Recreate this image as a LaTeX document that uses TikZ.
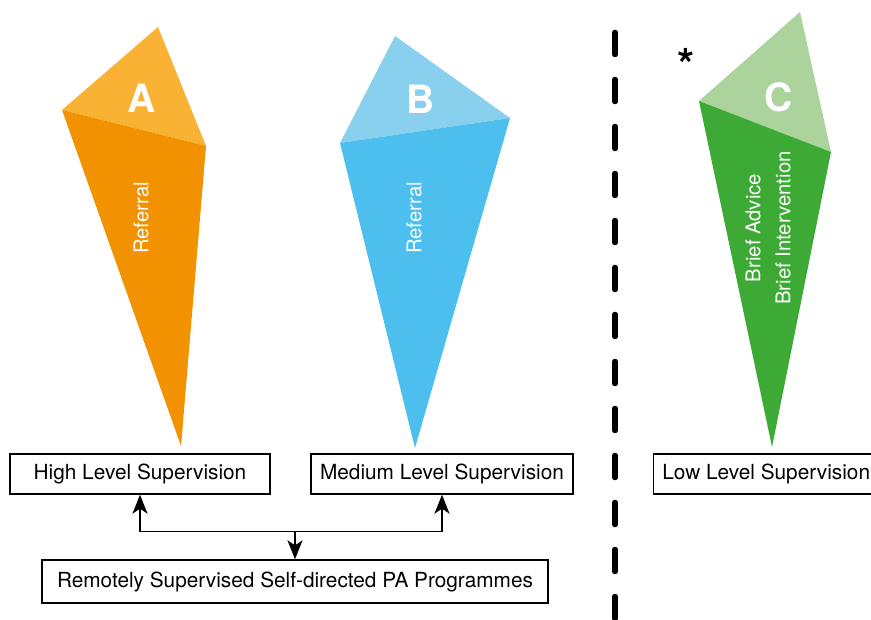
\documentclass[tikz,border=0pt]{standalone}
\usepackage{fontspec}
\setmainfont{TeX Gyre Heros}
\usetikzlibrary{arrows.meta, positioning}
\definecolor{orangeTop}{HTML}{F9B233}
\definecolor{orangeMain}{HTML}{F39200}
\definecolor{blueTop}{HTML}{89D0EE}
\definecolor{blueMain}{HTML}{4CBFEF}
\definecolor{greenTop}{HTML}{ABD39B}
\definecolor{greenMain}{HTML}{3DAA35}
\tikzset{
  sgbox/.style={draw, line width=1.4pt, fill=white, minimum height=40pt, inner sep=0pt,
    font=\fontsize{20.8}{22}\selectfont},
  sgarrow/.style={-{Stealth[length=19pt, width=15pt, inset=5pt]}, line width=1.7pt},
  sgletter/.style={text=white, font=\bfseries\fontsize{39}{40}\selectfont},
  sglabel/.style={text=white, rotate=90, align=center, font=\fontsize{20.3}{30}\selectfont},
  sgdivider/.style={line width=5.5pt, line cap=round, dash pattern=on 22pt off 25pt},
}

\begin{document}
\begin{tikzpicture}[x=1pt, y=-1pt]
  \useasboundingbox (0,0) rectangle (871,620);
  \clip (0,0) rectangle (871,620);

  % Kite A (high level).
  \coordinate (aTop) at (158,27);
  \coordinate (aLeft) at (62,110);
  \coordinate (aRight) at (206,146);
  \coordinate (aTip) at (181,446);
  \fill[orangeTop] (aLeft) -- (aTop) -- (aRight) -- cycle;
  \fill[orangeMain] (aLeft) -- (aRight) -- (aTip) -- cycle;
  \node[sgletter] (aLetter) at (142,98) {A};
  \node[sglabel] (aText) at (141,218) {Referral};

  % Kite B (medium level).
  \coordinate (bTop) at (395,36);
  \coordinate (bLeft) at (340,143);
  \coordinate (bRight) at (510,118);
  \coordinate (bTip) at (415,448);
  \fill[blueTop] (bLeft) -- (bTop) -- (bRight) -- cycle;
  \fill[blueMain] (bLeft) -- (bRight) -- (bTip) -- cycle;
  \node[sgletter] (bLetter) at (421,99) {B};
  \node[sglabel] (bText) at (414,218) {Referral};

  % Kite C (low level).
  \coordinate (cTop) at (800,12);
  \coordinate (cLeft) at (699,101);
  \coordinate (cRight) at (831,152);
  \coordinate (cTip) at (772,447);
  \fill[greenTop] (cLeft) -- (cTop) -- (cRight) -- cycle;
  \fill[greenMain] (cLeft) -- (cRight) -- (cTip) -- cycle;
  \node[sgletter] (cLetter) at (779,97) {C};
  \node[sglabel] (cText) at (768,228) {Brief Advice\\Brief Intervention};
  \node[font=\bfseries\fontsize{44}{44}\selectfont] (star) at (686,64) {*};

  % Divider.
  \coordinate (divTop) at (615,32.5);
  \coordinate (divEnd) at (615,640);
  \draw[sgdivider] (divTop) -- (divEnd);

  % Supervision boxes.
  \node[sgbox, minimum width=260pt] (high) at (140,474) {High Level Supervision};
  \node[sgbox, minimum width=262pt] (medium) at (442,474) {Medium Level Supervision};
  \node[sgbox, minimum width=225pt, anchor=west] (low) at (653,474) {Low Level Supervision};
  \node[sgbox, minimum width=506pt, minimum height=43pt] (remote) at (295,581.5)
    {Remotely Supervised Self-directed PA Programmes};

  % Connectors.
  \coordinate (split) at (remote.north |- 0,531.5);
  \draw[sgarrow] (split) -| (high.south);
  \draw[sgarrow] (split) -| (medium.south);
  \draw[sgarrow] (split) -- (remote.north);
\end{tikzpicture}
\end{document}
